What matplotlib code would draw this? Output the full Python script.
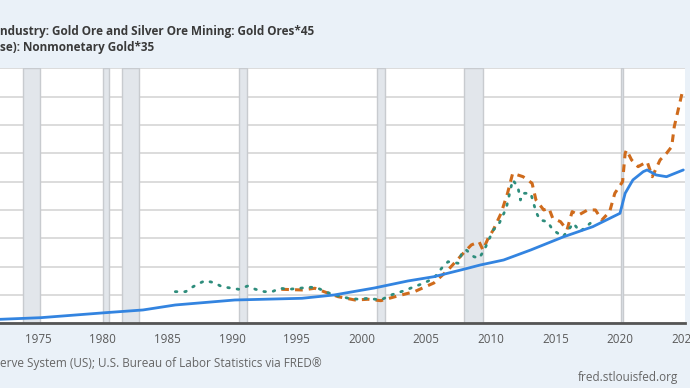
import matplotlib
matplotlib.use("Agg")
import matplotlib.pyplot as plt

# --- data (year vs index value) ---
blue_years = [1971.5, 1975.2, 1980.2, 1983.1, 1985.6, 1990.2, 1995.4, 1997.9,
              2001.0, 2003.6, 2005.6, 2007.7, 2009.2, 2011.0, 2013.1, 2015.6,
              2017.9, 2020.0, 2020.4, 2021.0, 2021.8, 2022.1, 2022.8, 2023.6, 2024.9]
blue_vals = [6.5, 9.9, 18.7, 23.5, 32.3, 41.1, 44.1, 50.0,
             62.3, 74.7, 82.2, 94.1, 102.9, 111.7, 129.4, 152.3,
             170.5, 194.1, 229.4, 253.0, 267.6, 270.6, 261.7, 258.7, 270.6]

gold_ores_years = [1993.8, 1995.4, 1996.4, 1997.1, 1998.2, 1999.5, 2000.5, 2001.5,
                   2002.8, 2004.1, 2004.9, 2005.6, 2006.7, 2007.9, 2008.5, 2009.1,
                   2009.4, 2009.8, 2010.2, 2010.8, 2011.3, 2011.7, 2012.1, 2012.5,
                   2013.2, 2013.5, 2014.1, 2014.5, 2014.8, 2015.4, 2015.9, 2016.3,
                   2016.8, 2017.5, 2018.1, 2018.6, 2019.2, 2019.6, 2020.2, 2020.4,
                   2020.5, 2020.9, 2021.4, 2022.1, 2022.5, 2023.1, 2023.6, 2024.0,
                   2024.2, 2024.5, 2024.8, 2024.95]
gold_ores_vals = [60.0, 58.8, 61.8, 55.8, 46.9, 41.1, 42.4, 39.9,
                  48.2, 55.8, 64.0, 71.1, 94.1, 124.1, 138.2, 144.0,
                  129.4, 150.0, 164.7, 194.1, 229.4, 264.7, 261.7, 258.7,
                  247.1, 217.6, 200.0, 203.0, 185.3, 179.3, 164.7, 197.0,
                  191.1, 200.0, 200.0, 182.3, 197.0, 229.4, 249.9, 300.0,
                  305.9, 288.2, 276.4, 285.2, 258.7, 288.2, 300.0, 311.7,
                  347.0, 376.5, 405.9, 413.0]

nonmon_years = [1985.6, 1986.4, 1986.9, 1987.3, 1987.9, 1988.6, 1989.2, 1990.0,
                1990.5, 1991.2, 1991.8, 1992.5, 1993.1, 1993.7, 1994.4, 1995.2,
                1995.9, 1996.5, 1997.2, 1997.9, 1999.0, 1999.8, 2000.5, 2001.5,
                2002.3, 2003.3, 2004.1, 2004.8, 2005.6, 2006.2, 2006.7, 2007.5,
                2007.8, 2008.1, 2008.7, 2009.1, 2009.5, 2010.2, 2010.6, 2011.2,
                2011.7, 2012.1, 2012.3, 2012.5, 2013.1, 2013.5, 2013.8, 2014.4,
                2014.8, 2015.6, 2016.4, 2016.9, 2017.7]
nonmon_vals = [55.8, 55.8, 63.5, 68.8, 75.2, 71.7, 64.6, 61.8,
               60.0, 65.8, 60.0, 55.8, 55.8, 61.8, 60.0, 61.8,
               63.5, 63.5, 55.8, 50.0, 44.1, 42.4, 44.1, 41.1,
               50.0, 57.5, 64.6, 70.6, 79.4, 97.1, 108.7, 105.9,
               126.4, 129.4, 117.5, 114.7, 129.4, 164.7, 173.5, 203.0,
               252.9, 241.1, 217.6, 229.4, 229.4, 197.0, 182.3, 179.3,
               164.7, 152.8, 176.5, 161.7, 176.5]

recessions = [(1973.83, 1975.17), (1980.0, 1980.5), (1981.5, 1982.83),
              (1990.5, 1991.17), (2001.17, 2001.83), (2007.92, 2009.42),
              (2020.08, 2020.25)]

year_ticks = [1975, 1980, 1985, 1990, 1995, 2000, 2005, 2010, 2015, 2020, 2025]

# the reference is a crop: only these parts of the legend / source lines show
legend_lines = ["ndustry: Gold Ore and Silver Ore Mining: Gold Ores*45",
                "se): Nonmonetary Gold*35"]
source_text = "erve System (US); U.S. Bureau of Labor Statistics via FRED\u00ae"
site_text = "fred.stlouisfed.org"

plt.rcParams["font.family"] = ["Open Sans", "DejaVu Sans"]

bg = "#eaf1f8"
fig = plt.figure(figsize=(6.9, 3.88), dpi=100, facecolor=bg)
ax = fig.add_axes([0.0, 0.1668, 0.9922, 0.6572])
ax.set_facecolor("white")

for start, end in recessions:
    ax.axvspan(start, end, facecolor="#e2e6eb", edgecolor="#c8cbcf", linewidth=1, zorder=1)

ax.plot(blue_years, blue_vals, color="#3384e0", linewidth=2.0, zorder=4,
        solid_capstyle="round")
ax.plot(gold_ores_years, gold_ores_vals, color="#cf6b1c", linewidth=2.2, zorder=3,
        linestyle=(0, (2.5, 2)))
ax.plot(nonmon_years, nonmon_vals, color="#2e8d7c", linewidth=2.0, zorder=3,
        linestyle=(0, (0.6, 2.8)), dash_capstyle="round")

ax.set_xlim(1972.04, 2025.0)
ax.set_ylim(0, 450)
ax.set_yticks(range(0, 451, 50))
ax.set_yticklabels([])
ax.tick_params(axis="y", length=0)
ax.grid(True, axis="y", color="#dcdcdc", linewidth=1.4, zorder=0)
ax.set_axisbelow(True)

ax.set_xticks(year_ticks)
ax.set_xticklabels([str(y) for y in year_ticks])
ax.tick_params(axis="x", length=0, pad=7, labelsize=8.4, labelcolor="#5a5a5a")

for side in ["left", "right", "top"]:
    ax.spines[side].set_visible(False)
ax.spines["bottom"].set_color("#555555")
ax.spines["bottom"].set_linewidth(2)

fig.text(0.0, 1 - 32 / 388, legend_lines[0], ha="left", va="center",
         fontsize=8.5, fontweight="bold", color="#3a3a3a")
fig.text(0.0, 1 - 48 / 388, legend_lines[1], ha="left", va="center",
         fontsize=8.5, fontweight="bold", color="#3a3a3a")

fig.text(0.0, 1 - 364 / 388, source_text, ha="left", va="center",
         fontsize=8.5, color="#666666")
fig.text(678 / 690, 1 - 377 / 388, site_text,
         ha="right", va="center", fontsize=8.5, color="#666666")

fig.savefig("out.png", dpi=100, facecolor=bg)
